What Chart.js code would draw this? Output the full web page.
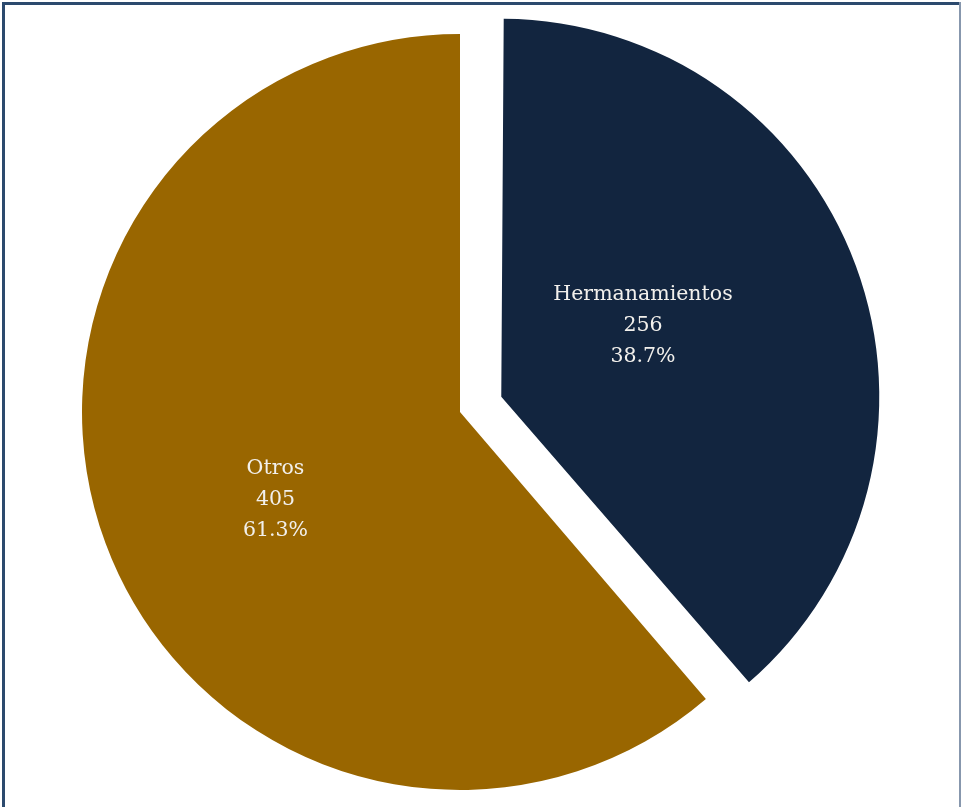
<!DOCTYPE html>
<html>
<head>
<meta charset="utf-8">
<script src="https://cdn.jsdelivr.net/npm/chart.js@4.4.0/dist/chart.umd.min.js"></script>
<style>
 html, body { margin: 0; padding: 0; background: #ffffff; }
 #wrap { position: relative; width: 961px; height: 807px; overflow: hidden; }
 #frame { position: absolute; left: 2px; top: 2px; width: 961px; height: 820px;
  border-left: 3px solid #2c4a6e; border-top: 3px solid #2c4a6e; box-sizing: border-box; }
 #frame2 { position: absolute; left: 959px; top: 2px; width: 2px; height: 820px; background: #8797ad; }
 #chart-canvas { position: absolute; left: 0; top: 0; }
</style>
</head>
<body>
<div id="wrap">
 <div id="frame"></div>
 <div id="frame2"></div>
 <canvas id="chart-canvas" width="961" height="807"></canvas>
</div>
<script>
var categories = ["Hermanamientos", "Otros"];
var counts = [256, 405];
var percents = ["38.7%", "61.3%"];

var sliceColors = [
 "#12253f", // navy
 "#996600", // gold
];

// label placement inside each slice: [fraction of radius, angle shift in degrees]
var labelPlacement = [
 [0.42, -6.5],
 [0.54, -5],
];

// v4 draws an offset arc moved by offset/4 and also grows its radius,
// so pull the radius back to keep both slices the same size
var keepRadius = {
 id: "keepRadius",
 beforeDatasetsDraw: function (chart) {
  var meta = chart.getDatasetMeta(0);
  meta.data.forEach(function (arc) {
   var off = (arc.options.offset || 0) / 4;
   if (!off || arc._fixed) return;
   var fix = 1 - Math.sin(Math.min(Math.PI, arc.circumference || 0));
   arc.outerRadius = arc.outerRadius - off * fix;
   arc._fixed = true;
  });
 },
};

var sliceLabels = {
 id: "sliceLabels",
 afterDatasetsDraw: function (chart) {
  var ctx = chart.ctx;
  var meta = chart.getDatasetMeta(0);
  ctx.save();
  ctx.fillStyle = "#f2f0ec";
  ctx.font = "20.5px 'Palatino Linotype', Palatino, 'DejaVu Serif', serif";
  ctx.textAlign = "center";
  ctx.textBaseline = "middle";
  meta.data.forEach(function (arc, i) {
   var p = arc.getProps(["x", "y", "startAngle", "endAngle", "outerRadius"], true);
   var mid = (p.startAngle + p.endAngle) / 2;
   var shift = (arc.options.offset || 0) / 4;
   var sx = p.x + Math.cos(mid) * shift;
   var sy = p.y + Math.sin(mid) * shift;
   var a = mid + labelPlacement[i][1] * Math.PI / 180;
   var r = 378 * labelPlacement[i][0];
   var cx = sx + Math.cos(a) * r;
   var cy = sy + Math.sin(a) * r;
   var lines = [categories[i], String(counts[i]), percents[i]];
   lines.forEach(function (t, k) {
    ctx.fillText(t, cx, cy + (k - 1) * 31);
   });
  });
  ctx.restore();
 },
};

var ctx = document.getElementById("chart-canvas");
new Chart(ctx, {
 type: "pie",
 data: {
  labels: categories,
  datasets: [
   {
    data: counts,
    backgroundColor: sliceColors,
    borderWidth: 0,
    offset: [176, 0],
   },
  ],
 },
 options: {
  responsive: false,
  animation: false,
  radius: 378,
  layout: {
   padding: { left: 0, right: 41, top: 17, bottom: 0 },
  },
  plugins: {
   legend: { display: false },
   tooltip: { enabled: false },
  },
 },
 plugins: [keepRadius, sliceLabels],
});
</script>
</body>
</html>
